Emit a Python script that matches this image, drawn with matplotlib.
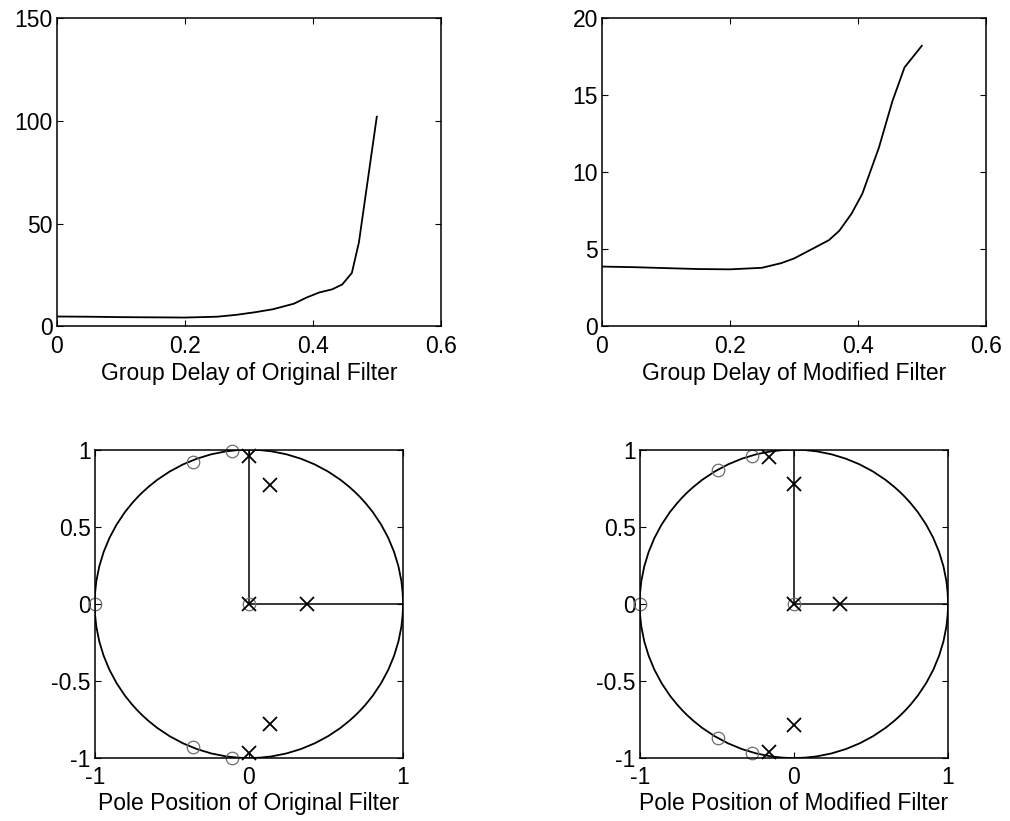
import matplotlib
matplotlib.use("Agg")
import matplotlib.pyplot as plt
from matplotlib.patches import Circle

# group delay of the original filter
orig_f = [0.0, 0.05, 0.10, 0.15, 0.20, 0.25, 0.28, 0.31, 0.337, 0.37, 0.39, 0.41, 0.43, 0.446, 0.461, 0.472, 0.50]
orig_gd = [4.8, 4.7, 4.5, 4.4, 4.3, 4.7, 5.6, 6.9, 8.3, 11.0, 14.0, 16.5, 18.0, 20.4, 26.0, 40.8, 102.0]

# group delay of the modified filter
mod_f = [0.0, 0.05, 0.10, 0.15, 0.20, 0.25, 0.28, 0.30, 0.33, 0.355, 0.371, 0.39, 0.407, 0.42, 0.433, 0.454, 0.473, 0.50]
mod_gd = [3.88, 3.84, 3.78, 3.72, 3.70, 3.80, 4.1, 4.4, 5.05, 5.6, 6.2, 7.3, 8.6, 10.1, 11.6, 14.6, 16.8, 18.2]

# zeros (o) and poles (x)
orig_zeros_re = [-1.0, -0.36, -0.36, -0.11, -0.11, 0.0]
orig_zeros_im = [0.0, 0.92, -0.93, 0.99, -1.0, 0.0]
orig_poles_re = [0.0, 0.0, 0.14, 0.14, 0.0, 0.374]
orig_poles_im = [0.96, -0.97, 0.77, -0.78, 0.0, 0.0]

mod_zeros_re = [-1.0, -0.49, -0.49, -0.27, -0.27, 0.0]
mod_zeros_im = [0.0, 0.87, -0.87, 0.96, -0.97, 0.0]
mod_poles_re = [-0.16, -0.16, 0.0, 0.0, 0.0, 0.30]
mod_poles_im = [0.95, -0.96, 0.78, -0.785, 0.0, 0.0]

plt.rcParams['font.family'] = ['Liberation Sans', 'DejaVu Sans']
plt.rcParams['font.size'] = 16.5
plt.rcParams['axes.unicode_minus'] = False
plt.rcParams['xtick.direction'] = 'in'
plt.rcParams['ytick.direction'] = 'in'
plt.rcParams['xtick.top'] = True
plt.rcParams['ytick.right'] = True
plt.rcParams['xtick.major.size'] = 4
plt.rcParams['ytick.major.size'] = 4
plt.rcParams['xtick.major.pad'] = 6
plt.rcParams['ytick.major.pad'] = 3
plt.rcParams['axes.linewidth'] = 1.1

fig, axs = plt.subplots(2, 2, figsize=(10.1, 8.21), dpi=100)
plt.subplots_adjust(left=0.0564, right=0.976, top=0.978, bottom=0.0767, wspace=0.42, hspace=0.40)

ax = axs[0, 0]
ax.plot(orig_f, orig_gd, color="black", linewidth=1.3)
ax.set_xlim([0, 0.6])
ax.set_ylim([0, 150])
ax.set_xticks([0, 0.2, 0.4, 0.6])
ax.set_xticklabels(["0", "0.2", "0.4", "0.6"])
ax.set_yticks([0, 50, 100, 150])
ax.set_xlabel("Group Delay of Original Filter", labelpad=3)

ax = axs[0, 1]
ax.plot(mod_f, mod_gd, color="black", linewidth=1.3)
ax.set_xlim([0, 0.6])
ax.set_ylim([0, 20])
ax.set_xticks([0, 0.2, 0.4, 0.6])
ax.set_xticklabels(["0", "0.2", "0.4", "0.6"])
ax.set_yticks([0, 5, 10, 15, 20])
ax.set_xlabel("Group Delay of Modified Filter", labelpad=3)


def zplot(ax, zr, zi, pr, pi, title):
	ax.add_patch(Circle((0, 0), 1, fill=False, edgecolor="black", linewidth=1.3))
	ax.plot([0, 0], [0, 1], color="black", linewidth=1.1)
	ax.plot([0, 1], [0, 0], color="black", linewidth=1.1)
	ax.plot(zr, zi, linestyle="none", marker="o", markersize=9, markerfacecolor="none",
			markeredgecolor="#6e6e6e", markeredgewidth=0.9, clip_on=False)
	ax.plot(pr, pi, linestyle="none", marker="x", markersize=10, color="black",
			markeredgewidth=1.3, clip_on=False)
	ax.set_xlim([-1, 1])
	ax.set_ylim([-1, 1])
	ax.set_aspect('equal', adjustable='box')
	ax.set_xticks([-1, 0, 1])
	ax.set_yticks([-1, -0.5, 0, 0.5, 1])
	ax.set_yticklabels(["-1", "-0.5", "0", "0.5", "1"])
	ax.set_xlabel(title, labelpad=2)


zplot(axs[1, 0], orig_zeros_re, orig_zeros_im, orig_poles_re, orig_poles_im, "Pole Position of Original Filter")
zplot(axs[1, 1], mod_zeros_re, mod_zeros_im, mod_poles_re, mod_poles_im, "Pole Position of Modified Filter")

plt.savefig("out.png", dpi=100)
plt.close()
